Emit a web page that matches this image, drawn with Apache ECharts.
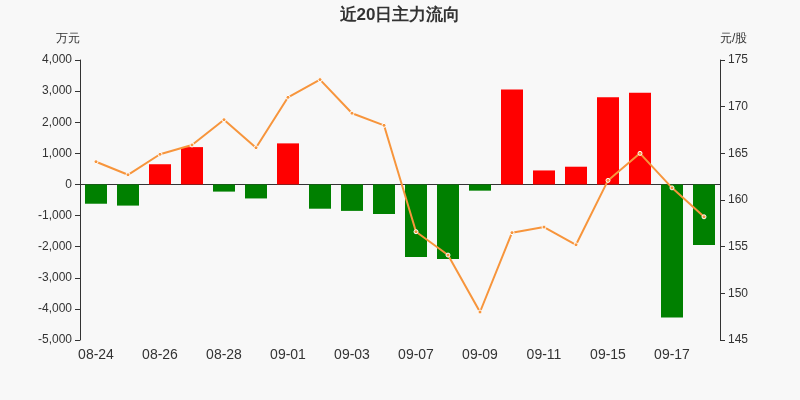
<!DOCTYPE html><html><head><meta charset="utf-8"><script src="https://cdn.jsdelivr.net/npm/echarts@6/dist/echarts.min.js"></script></head><body style="margin:0;background:#f8f8f8"><div id="c" style="width:800px;height:400px"></div><script>
const categories=['08-24','08-25','08-26','08-27','08-28','08-31','09-01','09-02','09-03','09-04','09-07','09-08','09-09','09-10','09-11','09-14','09-15','09-16','09-17','09-18'];
const flow=[-620,-680,650,1200,-230,-450,1320,-780,-850,-950,-2330,-2400,-200,3050,450,570,2800,2950,-4280,-1950];
const price=[164.1,162.7,164.9,165.9,168.6,165.6,171.0,172.9,169.3,168.0,156.6,154.1,148.0,156.5,157.1,155.2,162.1,165.0,161.3,158.2];
const ch=echarts.init(document.getElementById('c'));
ch.setOption({backgroundColor:'#f8f8f8',animation:false,
title:{text:'近20日主力流向',left:'center',top:2,textStyle:{fontSize:17,fontWeight:'bold',color:'#333'}},
grid:{left:80,right:80,top:60,bottom:60},
xAxis:{type:'category',data:categories,axisTick:{show:false},axisLine:{lineStyle:{color:'#333'}},axisLabel:{interval:1,fontSize:14,color:'#333'}},
yAxis:[{type:'value',name:'万元',min:-5000,max:4000,interval:1000,nameTextStyle:{color:'#333',align:'right'},axisLine:{show:true,lineStyle:{color:'#333'}},axisTick:{show:true},splitLine:{show:false},axisLabel:{color:'#333',formatter:v=>v.toLocaleString('en-US')}},
{type:'value',name:'元/股',min:145,max:175,interval:5,nameTextStyle:{color:'#333',align:'left'},axisLine:{show:true,lineStyle:{color:'#333'}},axisTick:{show:true},splitLine:{show:false},axisLabel:{color:'#333'}}],
series:[{type:'bar',data:flow,barWidth:22,itemStyle:{color:p=>p.value>=0?'#ff0000':'#008000'}},
{type:'line',yAxisIndex:1,data:price,symbol:'circle',symbolSize:4,itemStyle:{color:'#f7953c',borderColor:'#fff'},lineStyle:{color:'#f7953c',width:2}}]});
</script></body></html>
